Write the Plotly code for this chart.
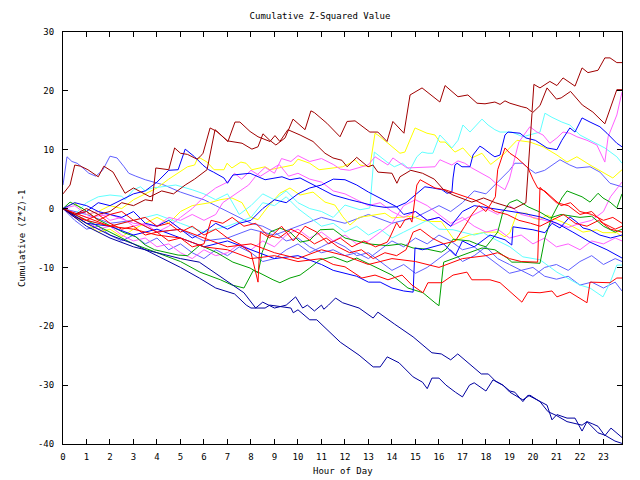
import plotly.graph_objects as go

# ---- colours ----
DR = "#a00000"; RD = "#ff0000"; GR = "#00a000"; BL = "#0000ff"; NV = "#0000a0"
LB = "#6060ff"; MG = "#ff60ff"; CY = "#60ffff"; YL = "#ffff00"

# ---- data: (hours, values) per series ----
dr_a_h = [0,0.3,0.5,0.75,1.06,1.5,1.74,2.13,2.64,3.0,3.7,4.2,4.7,5.2,5.6,6.13,6.47,7.0,7.62,8.04,8.3,8.51,8.8,9.06,9.45,9.79,10.3,10.55,10.7,11.23,11.79,12.09,12.43,13.06,13.4,13.79,14.04,14.51,14.77,15.28,16.04,16.26,16.81,17.23,17.62,17.96,18.38,18.6,18.81,19.02,19.53,19.74,19.96,20.04,20.3,20.72,21.02,21.28,21.79,22.09,22.34,22.77,23.06,23.28,23.57,23.79]
dr_a_v = [2.5,4,7.4,7.2,6.6,5.4,7.2,6.2,2.6,3.5,2.0,3.0,2.5,4.0,5.0,6.6,13.4,11.5,11.1,10.1,10.5,12.7,11.6,10.8,12.0,15.2,13.4,16.6,16.3,14.5,12.2,14.8,14.9,13.0,13.0,11.4,14.8,12.8,19.3,20.5,18.1,20.9,19.0,19.3,17.9,17.8,18.1,17.7,18.3,17.9,17.3,17.1,16.4,21.1,20.5,21.6,20.9,22.2,20.8,23.9,23.1,23.5,25.6,25.6,24.8,24.8]

dr_b_h = [0,0.5,1,1.5,2,2.5,3,3.5,3.8,3.95,4.5,4.75,5.0,5.3,5.7,5.83,5.96,6.26,6.55,7.02,7.32,7.53,7.96,8.3,8.81,9.02,9.23,9.57,10.09,10.64,11.15,11.49,11.87,12.09,12.5,12.98,13.19,13.4,14.0,14.21,14.34,14.8,15.3,15.8,16.2,16.6,17.4,17.9,18.4,18.8,19.2,19.7,19.96,20.3,20.6,21.0,21.2,21.6,22.1,22.55,23.06,23.57,23.79]
dr_b_v = [0,-1,0,-1,-0.5,1,0.5,1.5,1.3,6.9,6.6,10.3,9.4,9.2,8.4,8.8,9.4,13.7,13.1,11.4,14.7,14.7,13.1,12.2,11.4,12.4,11.4,13.4,12.5,11.4,9.4,8.6,8.2,7.1,8.7,7.1,7.4,6.2,6.0,4.3,5.4,6.5,6.0,5.0,3.2,2.3,1.1,1.8,1.0,0.5,0.0,1.0,16.2,17.5,20.5,18.6,18.8,19.9,17.6,16.4,14.4,20.2,20.2]

nv_p_h = [0,1,2,3,4,5,5.8,6.5,7.3,7.8,8.0,8.6,8.8,9.7,9.8,10.0,10.5,10.8,11.8,12.6,13.2,13.5,13.8,14.3,14.9,15.3,15.5,15.7,16.0,16.3,16.7,17.0,17.3,17.5,18.0,18.3,18.72,19.02,19.23,19.57,19.79,20.09,20.6,20.81,21.02,21.45,21.79,22.09,22.3,22.55,22.77,23.06,23.32,23.79]
nv_p_v = [0,-2.5,-4.5,-6,-8,-10,-11.8,-13.5,-14.5,-16.4,-16.9,-16.9,-16.4,-16.9,-17.7,-17.2,-18.9,-18.9,-22.7,-24.9,-26.9,-26.9,-25.2,-26.2,-28.6,-29.5,-30.6,-28.8,-28.8,-30,-31.2,-32,-30,-29.6,-31,-29.1,-30,-31,-31.2,-32.8,-31.7,-32.3,-33.4,-35.9,-35,-35.6,-35.6,-37.8,-36.2,-36.6,-37,-38.6,-37.3,-38.9]

nv_q_h = [0,1,2,3,4,5,5.8,6.5,7,7.7,8.2,8.5,9,9.5,9.9,10.2,10.4,10.7,11.0,11.1,11.3,11.6,11.9,12.2,12.6,13.2,13.4,14.1,14.9,15.7,16.1,16.5,16.8,17.8,18.1,18.4,18.72,19.02,19.57,19.87,20.3,20.64,21.02,21.45,22.09,22.3,22.77,23.06,23.49,23.79]
nv_q_v = [0,-3,-5,-6.5,-7.5,-8.5,-9.1,-11,-12.5,-14.3,-16.9,-15.9,-16.9,-16.4,-15,-16.9,-16.4,-17.4,-16.4,-17.1,-16.4,-15.2,-16,-16.4,-16.9,-18.6,-17.6,-19.6,-21.8,-24.5,-24.7,-25.7,-24.7,-28.1,-28.1,-29.3,-30,-31.2,-32.5,-31.7,-32.8,-34.5,-35.2,-36.2,-36.8,-36.2,-38.1,-38.5,-39.5,-39.9]

c1_h = [0,0.5,1,1.5,2,2.5,2.64,3.0,3.3,3.5,3.8,4.2,4.8,5.5,6,6.5,7,7.5,8,8.5,9,9.5,10,10.5,11,11.5,12.0,12.64,13.06,13.25,13.4,13.79,14.1,14.45,14.77,15.06,15.28,15.53,15.74,16.04,16.26,16.55,16.81,17.02,17.32,17.83,18.09,18.38,18.6,19.1,19.57,20.3,20.51,20.81,21.23,21.57,22.0,23.06,23.57,23.79]
c1_v = [0,-1,1,2.0,2.3,2.1,1.5,3.2,3.7,3.0,3.5,3.7,4.0,3.2,2.5,1.5,2.5,-1,0.5,2.5,1.5,3.0,1.0,0.0,-0.5,-1.5,0.6,-0.2,0.1,9.6,9.1,7.9,7.1,7.7,6.6,8.8,9.6,9.4,9.4,12.5,11.6,10.3,11.6,14.2,13.0,15.2,14.2,13.4,13.0,13.0,12.2,13.0,16.2,15.5,14.7,14.2,12.5,10.3,8.8,7.7]

c2_h = [0,1,2,3,4,5,6,7,8,8.5,9,9.5,10,10.5,11,11.5,12,12.5,13,13.5,14,14.5,15,15.5,16,16.6,17.5,17.9,18.17,19.02,19.57,20.3,21.02,21.57,22.0,22.43,22.98,23.28,23.57,23.79]
c2_v = [0,-2,-3,-2,-1,-2.5,-4,-3,-1.5,1.0,0.5,2.0,0.0,-1.5,-3.0,-2.5,-4.0,-3.0,-4.5,-3.5,-5.0,-4.0,-3.0,-2.0,-3.5,-3.6,-4.5,-4.1,-4.8,-6.5,-8.2,-8.7,-10.8,-12.1,-13,-13.5,-15,-12.6,-9.6,-9.6]

y1_h = [0,0.5,1,1.5,2,2.5,3,3.5,4,4.5,5.1,5.3,5.6,5.7,5.83,6.13,6.43,6.85,6.98,7.19,7.57,7.79,8.04,8.6,8.81,9.79,10.0,10.5,10.9,11.9,12.21,12.43,12.64,13.06,13.28,13.4,13.83,14.34,14.55,14.98,15.49,15.83,16.04,16.26,16.68,17.02,17.4,17.83,18.2,18.72,19.32,19.87,20.43,21.02,21.45,21.87,22.43,22.98,23.4,23.79]
y1_v = [0,1,-1,-0.5,0.5,0,1.5,2.5,3.5,5.0,6.6,7.1,7.4,8.3,8.6,7.9,6.6,6.6,7.7,6.9,7.9,7.7,6.6,7.1,6.6,7.4,8.4,7.7,6.6,7.1,7.7,8.3,7.4,7.1,12.8,12.5,11.1,9.4,9.6,13.7,12.8,12.5,11.3,11.3,9.6,10.3,8.6,9.4,7.5,9.1,11.6,11.3,10.5,9.1,7.9,8.8,7.4,6.2,5.2,6.6]

y2_h = [0,0.5,1,1.5,2,2.5,3,3.5,4,4.5,5,5.5,6.26,6.68,7.19,7.62,7.96,8.3,8.68,9.23,9.66,10.09,10.64,11.15,11.57,11.91,12.21,12.6,13.28,13.7,14.0,14.85,15.3,15.7,16.1,16.68,17.3,18.0,18.5,18.81,19.02,19.32,19.74,20.0,20.3,20.6,21.02,21.57,22.13,22.72,22.98,23.57,23.79]
y2_v = [0,-1.5,-2.5,-4,-3.5,-4.8,-3.5,-2.5,-1.5,-2.5,-0.5,0.5,1,1.5,1.8,1.0,-1.4,-1.9,0.1,2.6,3.5,2.3,2.8,1.1,0.6,-1.4,-2.8,-1.5,-1.0,-0.8,-1.6,-1.3,-2.0,-2.2,-2.2,-5.5,-4.5,-4.0,-4.0,-4.8,-4.1,-0.8,-0.8,-1.6,-1.9,-1.1,-1.9,-2.8,-4.0,-3.6,-4.1,-4.1,-4.8]

m1_h = [0,1,2,3,4,4.5,5,5.5,6,6.5,6.8,7.1,7.5,7.9,8.2,8.6,9.0,9.3,9.7,10.0,10.5,11.0,11.5,11.8,12.2,12.7,12.98,13.28,13.83,14.04,14.34,14.64,15.83,16.04,16.26,16.55,16.81,17.1,17.4,18.17,18.5,18.81,19.0,19.23,19.4,19.87,20.17,20.43,20.72,21.02,21.28,21.57,21.87,22.3,22.72,23.06,23.2,23.57,23.79]
m1_v = [0,-1.5,-1,-2.5,-3,-1.5,-2,-1,-2,-1.0,1.0,1.8,3.0,4.0,5.5,7.0,6.0,8.5,8.0,9.0,8.0,8.5,7.5,6.7,6.5,7.1,7.4,8.8,7.4,8.6,7.7,6.9,7.1,8.3,7.9,7.4,8.1,7.7,6.9,5.2,4.0,3.2,5.0,8.9,11.3,13.9,13.0,12.5,11.1,12.0,13.0,12.8,12.2,11.6,10.8,7.9,12.2,15.9,19.8]

m2_h = [0,0.5,1,1.5,2,2.5,3,3.5,4,4.5,5,5.5,6,6.5,7,7.3,7.6,8.0,8.4,8.8,9.2,9.6,10,10.5,11,11.5,12,12.5,13,13.5,14,14.5,15,15.5,16,16.5,17,17.5,18,18.5,19.0,19.5,20,20.5,21,21.5,22,22.5,23.0,23.3,23.6,23.79]
m2_v = [0,0.5,-1,-0.5,-2,-1.5,-3,-2.5,-4,-3,-1.5,0,2,3.5,4.5,6.0,5.0,6.5,5.5,6.5,7.5,5.5,6.0,5.0,4.5,3.0,2.5,1.5,0.5,1.0,-0.5,-1.5,-0.5,-2.0,-1.5,-3.0,-2.0,-1.0,0.0,-1.0,0.5,-1.0,-1.5,-2.0,-2.5,-3.2,-2.5,-2.0,-0.5,2.0,3.5,4.5]

m3_h = [0,0.5,1,1.5,2,2.5,3,3.5,4,4.5,5,5.5,6,6.5,7,7.5,8,8.5,9,9.5,10,10.5,11,11.5,12,12.5,13,13.5,14,14.5,15,15.5,16,16.5,17,17.5,18,18.5,19,19.5,20,20.5,21,21.5,22,22.5,23,23.5,23.79]
m3_v = [0,-1.5,-2,-3.5,-3,-4.5,-5.5,-5,-6.5,-6,-7.5,-8.5,-7,-8,-7.5,-6,-7,-5.5,-6.5,-4.5,-3.5,-5,-4,-5.5,-4.5,-6,-5.5,-4,-2.5,0.5,1.5,0.5,-1.0,-2.5,-1.5,-3.0,-4.0,-3.5,-5.0,-4.5,-6.0,-5.0,-6.5,-6.0,-7.0,-5.5,-6.0,-5.0,-5.5]

g1_h = [0,1,2,3,4,5,5.83,6.7,7.2,7.7,8.1,8.3,8.94,9.23,9.66,10.09,10.5,10.94,11.5,12.09,12.5,13.28,14.0,14.68,15.32,15.83,16.0,16.2,16.68,17.23,17.83,18.38,18.9,19.1,19.53,20.3,20.51,20.81,21.23,21.45,21.7,22.09,22.43,22.77,22.98,23.28,23.57,23.79]
g1_v = [0,-2,-4,-6,-7.5,-9,-10.8,-12.1,-13.0,-13.5,-10.5,-10.8,-12.1,-12.6,-11.8,-11.3,-10.1,-8.7,-8.2,-9.1,-8.4,-9.9,-11.3,-13.5,-14.3,-16.0,-16.5,-9.1,-8.4,-7.5,-6.7,-7.0,-8.4,-9.1,-9.1,-9.3,-5.0,-1.4,1.8,3.0,2.6,2.0,1.1,2.6,1.8,1.1,0.1,2.5]

g2_h = [0,0.3,0.8,1.5,2.2,2.6,3.1,3.5,3.9,4.3,4.9,5.3,5.83,6.55,7.23,7.96,8.3,8.4,8.47,8.81,9.23,9.66,10.09,10.5,10.94,11.5,12,13.0,13.8,14.4,14.9,15.5,16.1,16.3,16.6,17.3,17.6,18.0,18.5,18.72,19.0,19.32,19.79,20.3,20.72,21.2,21.5,22.0,22.5,23.0,23.5,23.79]
g2_v = [0,1.1,0.1,-1.9,-3.3,-4.1,-4.8,-6.2,-7.0,-7.4,-7.9,-8.0,-6.2,-7.5,-9.1,-10.1,-10.9,-9.1,-7.5,-4.0,-3.3,-4.0,-5.7,-5.4,-3.6,-3.5,-5,-6.0,-6.3,-6.0,-6.7,-6.9,-7.4,-6.9,-5.2,-5.5,-6.0,-6.5,-4.0,-0.6,1.0,1.5,0.3,-0.6,-1.6,-1.0,-1.2,-1.5,-1.3,-3.0,-4.0,-3.5]

r1_h = [0,1,2,3,4,5,6,7,8,9,10,11,11.5,12.0,12.72,13.28,13.83,14.43,14.85,15.32,15.53,16.13,16.6,17.19,17.4,17.96,18.17,18.6,19.53,19.79,20.3,20.81,21.02,21.57,22.3,22.43,22.98,23.28,23.57,23.79]
r1_v = [0,-2,-3,-3.5,-4.5,-5,-6.5,-7,-8.5,-8,-9,-8.5,-9.5,-9.9,-11.8,-11.3,-12.1,-11.3,-13.0,-14.3,-12.6,-12.6,-11.3,-10.8,-12.1,-12.1,-12.1,-12.6,-15.9,-14.2,-14.3,-14.0,-15.0,-14.2,-16.0,-12.5,-12.5,-12.6,-11.8,-11.8]

r2_h = [0,0.5,1,1.5,2,2.5,3,3.5,4,4.5,5,5.5,6,6.5,7,7.5,8,8.3,8.4,8.8,9.3,9.8,10.3,10.8,11.3,11.8,12.3,12.8,13.3,13.8,13.9,14.2,14.34,14.55,14.77,14.85,14.98,15.06,15.2,15.4,15.83,16.26,16.68,17.1,17.5,18.0,18.4,18.9,19.4,19.9,20.3,20.8,21.3,21.8,22.3,22.8,23.3,23.79]
r2_v = [0,-1,-0.5,-2,-1,-0.5,-2,-1.5,-3,-2.5,-4,-3,-4.5,-3.5,-5,-6,-7.5,-12.5,-4,-5,-3,-5.5,-3,-4,-6,-5,-6.5,-5.5,-6.5,-5.7,-5.0,-2.4,-3.3,-1.9,-1.6,-2.3,1.8,4.0,4.9,4.5,3.5,3.2,2.6,2.0,1.5,0.5,-0.5,-1.0,-2.0,-2.5,-3.0,-2.0,-1.0,-2.5,-3.0,-2.0,-3.5,-4.0]

r3_h = [0,0.5,1,1.5,2,2.5,3,3.5,4,4.5,5,5.5,6,6.3,6.8,7.2,7.7,8.2,8.7,9.2,9.7,10.2,10.7,11.2,11.7,12.2,12.7,13.2,13.7,14.2,14.6,14.9,15.2,15.7,16.2,16.7,17.1,17.4,17.7,18.0,18.4,18.5,18.81,19.02,19.32,19.57,19.79,20.0,20.2,20.5,20.9,21.2,21.6,22.0,22.5,23.0,23.4,23.79]
r3_v = [0,-1.5,-2,-1,-2.5,-3.5,-3,-4.5,-4,-5.5,-5,-6.5,-6,-2,-2.5,-1.5,-3,-2.5,-4.5,-5,-3.5,-4.5,-6,-5,-6.5,-7.5,-7,-8.5,-7.5,-8,-7.0,-4.0,-3.5,-5,-6,-5.5,-3,-1,0.5,-0.5,2.0,6.6,10.3,9.4,8.6,7.7,6.9,5.0,3.5,3.0,1.5,0.5,1.0,-0.5,-1.0,-2.0,-1.5,-2.5]

r4_h = [0,1,2,3,4,5,6,7,8,9,10,11,12,13,14,15,16,17,18,18.5,19,19.5,20.2,20.3,20.6,21,21.5,22,22.5,23,23.5,23.79]
r4_v = [0,-1.5,-3,-2,-4,-3.5,-5,-6.5,-6,-7.5,-8.5,-7,-8,-9.5,-8.5,-9,-10,-8.5,-8,-7.5,-8.5,-9.0,-9.1,3.6,2.5,1.0,0.5,-1.0,-0.5,-2.5,-3.5,-3.0]

b1_h = [0,0.5,1,1.5,2,2.5,3,3.5,4,4.5,4.9,5.2,5.6,5.95,6.2,6.4,6.85,7.0,7.23,7.96,8.6,9.32,9.66,10.09,10.5,11.06,11.49,11.91,12.21,12.72,13.2,13.7,14.2,14.5,15,15.5,16,16.5,17,17.5,18.17,19.57,20.3,21.02,21.7,22.43,23.15,23.79]
b1_v = [0,-1,-0.5,1,0.5,1.5,2.5,3.0,4.5,6.5,6.6,10.1,8.8,7.4,6.6,6.2,5.2,4.3,5.7,6.0,4.9,5.4,4.9,5.2,4.3,3.2,2.3,1.8,1.5,1.0,0.5,0.2,0.3,-1.0,-0.5,-2.0,-1.5,-3.0,-0.5,0.5,0.1,-0.8,-1.4,-2.5,-4.0,-5.7,-7.0,-8.4]

b2_h = [0,0.5,1,1.5,2,2.5,3,3.5,4,4.5,5,5.5,6,6.5,7,7.5,8,8.5,9,9.5,10,10.5,11,11.5,12.0,12.5,13.0,13.5,14.2,14.6,14.85,15.06,15.4,15.74,16.13,16.34,16.55,16.6,16.68,16.77,16.98,17.32,17.45,17.74,17.87,18.26,18.38,18.6,18.81,18.94,19.45,19.7,20.1,20.6,21.02,21.23,21.57,21.79,22.09,22.43,22.85,23.15,23.57,23.79]
b2_v = [0,1,0.5,-0.5,-1,-1.5,-0.5,-2.5,-3,-2,-3.5,-5,-4,-2.5,-3.5,-2.5,-2,0,1.5,1.0,2.5,3.5,4.0,5.0,4.9,4.0,2.8,1.8,0.3,1.0,1.8,2.6,3.7,3.5,3.2,2.6,2.8,5.2,7.4,7.7,7.1,7.1,9.1,10.6,10.3,9.1,8.8,9.1,12.5,13.0,12.8,12.0,11.6,10.3,10.0,11.6,13.7,13.0,15.4,14.7,13.9,12.8,11.1,10.5]

b4_h = [0,1,2,3,4,5,6,7,8,9,10,11,11.5,12,12.5,13,13.5,14,14.5,14.9,14.98,15.3,15.8,16.2,16.7,17.0,17.5,18.17,18.81,19.1,19.15,19.57,20.0,20.51,20.81,21.15,21.57,21.87,22.13,22.43,22.85,23.3,23.79]
b4_v = [0,-2.5,-3,-4.5,-3.5,-5,-6.5,-5.5,-7,-8.5,-8,-9.5,-10.5,-11,-11.5,-12.5,-12.5,-13.5,-14.0,-14.2,-6.7,-7.0,-6.5,-6.0,-8.0,-5.5,-6.5,-4.5,-5.3,-6.2,-3.1,-3.3,-3.6,-4.1,-2.5,-3.3,-1.4,-2.3,-3.3,-3.6,-4.5,-5.0,-4.5]

lb1_h = [0,0.17,0.38,0.6,0.85,1.1,1.4,1.7,2.0,2.3,2.6,2.8,3.1,3.5,4.3,5.0,5.6,6.0,6.5,7.0,7.5,8.0,8.5,9.0,9.5,10,10.5,11,11.5,12,12.5,13,13.5,14,14.5,15,15.5,16,16.5,17,17.5,18,18.5,19,19.5,20,20.5,21,21.5,22,22.5,23,23.5,23.79]
lb1_v = [4,8.8,8.0,7.7,6.9,6.0,5.5,6.6,8.9,8.6,7.1,6.0,5.5,4.9,4.0,2.8,2.0,1.5,0.5,-0.5,-1.5,-2.5,-3.0,-4.0,-5.5,-5.0,-6.5,-7.5,-7.0,-8.0,-7.5,-8.5,-7.0,-5.5,-6.5,-5.0,-6.0,-4.5,-5.5,-7.0,-6.5,-8.0,-9.5,-11.0,-10.5,-10.0,-11.5,-12.0,-11.5,-13.0,-12.5,-13.5,-12.5,-14.0]

lb2_h = [0,1,2,3,4,5,6,7,8,9,10,11,12,13,14,15,16,16.5,17,17.5,18.0,18.5,19.0,19.23,19.57,19.79,20.1,20.5,21.02,21.15,21.57,21.87,22.43,22.85,23.28,23.79]
lb2_v = [0,-1,-2.5,-2,-4,-3.5,-5.5,-5,-3.5,-4.5,-3,-1.5,-2.5,-1.0,-2.5,-1.5,0.5,-0.5,1.0,3.0,2.5,4.5,6.5,7.7,7.7,6.9,6.0,6.5,7.9,8.3,7.4,6.9,7.1,6.2,4.3,3.7]

lb3_h = [0,0.5,1,1.5,2,2.5,3,3.5,4,4.5,5,5.5,6,6.5,7,7.5,8,8.5,9,9.5,10,10.5,11,11.5,12,12.5,13,13.5,14,14.5,15,15.5,16,16.5,17,17.5,18,18.5,19,19.5,20,20.5,21,21.5,22,22.5,23,23.5,23.79]
lb3_v = [0,-2,-3.5,-3,-4.5,-5.5,-4.5,-6,-5,-7,-6,-7.5,-8.5,-7,-8,-6.5,-7.5,-9,-8.5,-7,-6,-7.5,-6.5,-5.5,-6.5,-8,-7.5,-9,-10.5,-9.5,-11,-10,-8.5,-7,-9,-8,-6.5,-8.5,-9.5,-10.5,-11.5,-10,-9.5,-10.5,-9,-8,-9.5,-8.5,-9.0]

series = [
    (lb3_h, lb3_v, LB), (lb2_h, lb2_v, LB), (lb1_h, lb1_v, LB),
    (y2_h, y2_v, YL), (y1_h, y1_v, YL),
    (c2_h, c2_v, CY), (c1_h, c1_v, CY),
    (m3_h, m3_v, MG), (m2_h, m2_v, MG), (m1_h, m1_v, MG),
    (g2_h, g2_v, GR), (g1_h, g1_v, GR),
    (b4_h, b4_v, BL), (b2_h, b2_v, BL), (b1_h, b1_v, BL),
    (r4_h, r4_v, RD), (r3_h, r3_v, RD), (r2_h, r2_v, RD), (r1_h, r1_v, RD),
    (nv_q_h, nv_q_v, NV), (nv_p_h, nv_p_v, NV),
    (dr_b_h, dr_b_v, DR), (dr_a_h, dr_a_v, DR),
]

x_ticks = list(range(0, 24))
y_ticks = [-40, -30, -20, -10, 0, 10, 20, 30]

FONT = "DejaVu Sans Mono"

fig = go.Figure()
for h, v, col in series:
    fig.add_trace(go.Scatter(x=h, y=v, mode="lines",
                             line=dict(color=col, width=1), hoverinfo="skip"))

axis_common = dict(showgrid=False, zeroline=False, showline=True, linecolor="black",
                   linewidth=1, mirror="ticks", ticks="inside", ticklen=5,
                   tickcolor="black", tickfont=dict(family=FONT, size=9, color="black"))
fig.update_xaxes(range=[0, 23.79], tickvals=x_ticks, ticktext=[str(t) for t in x_ticks],
                 ticklabelstandoff=4, **axis_common)
fig.update_yaxes(range=[-40, 30], tickvals=y_ticks, ticktext=[str(t) for t in y_ticks],
                 ticklabelstandoff=6, **axis_common)

fig.update_layout(
    width=640, height=480,
    margin=dict(l=63, r=18, t=32, b=36),
    paper_bgcolor="white", plot_bgcolor="white",
    showlegend=False,
    font=dict(family=FONT, size=9, color="black"),
    title=dict(text="Cumulative Z-Squared Value", x=0.5, xanchor="center",
               y=1 - 16 / 480, yanchor="middle", yref="container",
               font=dict(family=FONT, size=9, color="black")),
    annotations=[
        dict(text="Hour of Day", xref="paper", yref="paper", x=0.5, y=-27 / 412,
             xanchor="center", yanchor="middle", showarrow=False,
             font=dict(family=FONT, size=9, color="black")),
        dict(text="Cumulative (Z*Z)-1", xref="paper", yref="paper", x=-41 / 559, y=0.5,
             xanchor="center", yanchor="middle", textangle=-90, showarrow=False,
             font=dict(family=FONT, size=9, color="black")),
    ],
)

fig.write_html("out.html")
